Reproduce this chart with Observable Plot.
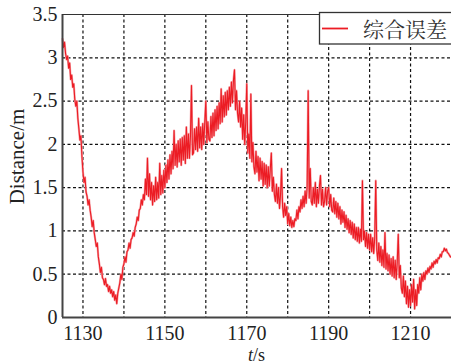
<!DOCTYPE html>
<html><head><meta charset="utf-8">
<script src="https://cdn.jsdelivr.net/npm/d3@7"></script>
<script src="https://cdn.jsdelivr.net/npm/@observablehq/plot@0.6"></script>
<style>
body{margin:0;background:#fff}
#chart svg text.cjk{font-family:"Noto Serif CJK SC","Noto Sans CJK SC",serif !important}
</style>
</head><body><div id="chart"></div>
<script>
// Time axis: samples every 0.25 s starting at 1125 s
const tStart = 1125;
const tStep = 0.25;
// 综合误差 (m), 4 samples per second
const errValues = [
 3.22,3.12,3.18,3.05, 2.98,3.02,2.88,2.94, 2.75,2.80,2.66,2.70, 2.52,2.44,2.50,2.30, 2.18,2.05,2.10,1.86,
 1.68,1.56,1.62,1.45, 1.40,1.30,1.36,1.24, 1.16,1.05,1.12,0.98, 0.90,0.82,0.86,0.70, 0.62,0.52,0.58,0.46,
 0.44,0.38,0.45,0.36, 0.38,0.30,0.36,0.28, 0.32,0.24,0.30,0.20, 0.26,0.16,0.28,0.34, 0.40,0.50,0.44,0.58,
 0.62,0.70,0.64,0.76, 0.78,0.86,0.80,0.90, 0.92,0.98,0.94,1.04, 1.08,1.16,1.12,1.24, 1.26,1.36,1.30,1.42,
 1.36,1.60,1.42,1.84, 1.40,1.66,1.36,1.56, 1.30,1.52,1.34,1.62, 1.36,1.56,1.38,1.78, 1.42,1.64,1.44,1.70,
 1.50,1.76,1.56,1.82, 1.60,1.88,1.66,1.92, 1.72,2.16,1.76,2.00, 1.74,2.04,1.80,2.06, 1.76,2.08,1.82,2.10,
 1.78,2.20,1.84,2.12, 1.84,2.10,2.68,1.88, 1.90,2.18,1.94,2.20, 1.92,2.30,1.96,2.20, 1.94,2.24,2.00,2.26,
 2.50,2.02,2.26,2.06, 2.04,2.32,2.08,2.36, 2.10,2.40,2.16,2.44, 2.18,2.48,2.24,2.64, 2.26,2.56,2.32,2.60,
 2.34,2.62,2.40,2.66, 2.44,2.72,2.48,2.74, 2.86,2.40,2.62,2.36, 2.26,2.50,2.20,2.42, 2.06,2.34,2.00,2.26,
 2.70,1.90,2.12,1.84, 2.58,1.80,2.02,1.74, 1.66,1.92,1.68,1.86, 1.58,1.84,1.60,1.80, 1.52,1.78,1.54,1.76,
 1.50,1.74,1.52,1.72, 1.90,1.46,1.62,1.42, 1.34,1.54,1.32,1.50, 1.26,1.42,1.72,1.28, 1.16,1.32,1.18,1.28,
 1.08,1.20,1.06,1.16, 1.04,1.12,1.05,1.14, 1.12,1.24,1.14,1.28, 1.22,1.36,1.26,1.40, 1.28,1.46,1.32,1.52,
 2.62,1.38,1.72,1.34, 1.30,1.50,1.32,1.56, 1.28,1.48,1.32,1.52, 1.64,1.30,1.48,1.28, 1.34,1.50,1.30,1.46,
 1.50,1.28,1.42,1.24, 1.22,1.38,1.20,1.34, 1.16,1.32,1.14,1.28, 1.08,1.24,1.10,1.22, 1.04,1.18,1.02,1.14,
 0.98,1.12,0.96,1.10, 0.92,1.08,0.90,1.04, 0.88,1.04,0.86,1.02, 0.88,1.58,0.90,1.00, 0.82,0.98,0.80,0.96,
 0.78,0.96,0.76,0.92, 0.74,0.92,1.58,0.78, 0.66,0.86,0.64,0.82, 0.60,0.78,0.58,0.98, 0.56,0.74,0.54,0.72,
 0.50,0.68,0.48,0.70, 0.46,0.66,0.44,0.64, 0.96,0.46,0.60,0.34, 0.28,0.48,0.24,0.42, 0.16,0.36,0.12,0.32,
 0.14,0.38,0.18,0.44, 0.10,0.32,0.14,0.38, 0.28,0.46,0.32,0.50, 0.42,0.52,0.44,0.54, 0.50,0.57,0.52,0.59,
 0.56,0.63,0.58,0.65, 0.62,0.67,0.63,0.69, 0.68,0.73,0.70,0.76, 0.76,0.80,0.77,0.79, 0.75,0.74,0.72,0.70,
 0.70
];
const xDomain = [1125, 1220];
const yDomain = [0, 3.5];
const xGridTicks = [1130, 1140, 1150, 1160, 1170, 1180, 1190, 1200, 1210];
const xLabelTicks = [1130, 1150, 1170, 1190, 1210];
const yTicks = [0, 0.5, 1, 1.5, 2, 2.5, 3, 3.5];
const legendLabel = "综合误差";
const yLabel = "Distance/m";
const xLabelItalic = "t";
const xLabelRest = "/s";

const data = errValues.map((v, i) => ({t: tStart + i * tStep, d: v}));

const W = 451, H = 364, mL = 62, mR = 0, mT = 14, mB = 47;
const gridStyle = {stroke: "#111", strokeOpacity: 1, strokeWidth: 1.2, strokeDasharray: "3,2.5"};
const red = "#ec1c24";

function render() {
  const host = document.getElementById("chart");
  host.innerHTML = "";
  const chart = Plot.plot({
    width: W, height: H,
    marginLeft: mL, marginRight: mR, marginTop: mT, marginBottom: mB,
    style: {fontFamily: "Liberation Serif", fontSize: "20px", color: "#222", background: "#fff", overflow: "visible"},
    x: {domain: xDomain, ticks: xLabelTicks, tickFormat: d => String(d), tickSize: 0, tickPadding: 8, label: null},
    y: {domain: yDomain, ticks: yTicks, tickFormat: d => String(d), tickSize: 0, tickPadding: 5, label: null},
    marks: [
      Plot.gridX(xGridTicks, gridStyle),
      Plot.gridY(yTicks.filter(v => v > yDomain[0] && v < yDomain[1]), gridStyle),
      Plot.line(data, {x: "t", y: "d", stroke: "#f5a3a8", strokeWidth: 2.2}),
      Plot.line(data, {x: "t", y: "d", stroke: red, strokeWidth: 1.1}),
      Plot.ruleX([xDomain[0]], {stroke: "#444", strokeWidth: 2}),
      Plot.ruleY([yDomain[0]], {stroke: "#444", strokeWidth: 2}),
      Plot.ruleY([yDomain[1]], {stroke: "#333", strokeWidth: 1.2})
    ]
  });
  host.appendChild(chart);

  const svg = d3.select(chart);
  // y-axis label
  svg.append("text")
    .attr("transform", `translate(24,${(mT + H - mB) / 2 - 9}) rotate(-90)`)
    .attr("text-anchor", "middle")
    .attr("fill", "#222")
    .attr("font-size", 21)
    .text(yLabel);
  // x-axis label with italic t
  const xl = svg.append("text")
    .attr("x", (mL + W - mR) / 2).attr("y", 360.5)
    .attr("text-anchor", "middle")
    .attr("fill", "#222")
    .attr("font-size", 18);
  xl.append("tspan").attr("font-style", "italic").text(xLabelItalic);
  xl.append("tspan").text(xLabelRest);
  // legend
  const lg = svg.append("g");
  lg.append("rect").attr("x", 319.5).attr("y", 12.5).attr("width", 140).attr("height", 31.5)
    .attr("fill", "#fff").attr("stroke", "#333").attr("stroke-width", 1.3);
  lg.append("line").attr("x1", 322).attr("x2", 348).attr("y1", 28.5).attr("y2", 28.5)
    .attr("stroke", red).attr("stroke-width", 1.8);
  lg.append("text").attr("class", "cjk").attr("x", 363).attr("y", 37)
    .attr("text-anchor", "start")
    .attr("fill", "#333")
    .attr("font-size", 21)
    .text(legendLabel);
}

render();
if (document.fonts && document.fonts.load) {
  Promise.all([
    document.fonts.load('20px "Liberation Serif"'),
    document.fonts.load('italic 20px "Liberation Serif"')
  ]).then(() => render()).catch(() => {});
}
</script>
</body></html>
